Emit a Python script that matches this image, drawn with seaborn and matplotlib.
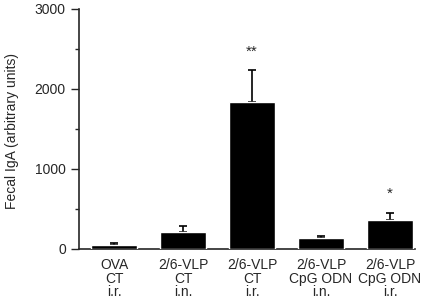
import matplotlib
matplotlib.use("Agg")
import matplotlib.pyplot as plt
import seaborn as sns
import pandas as pd
from matplotlib.ticker import MultipleLocator

# Données
groupes = ["OVA\nCT\ni.r.", "2/6-VLP\nCT\ni.n.", "2/6-VLP\nCT\ni.r.",
           "2/6-VLP\nCpG ODN\ni.n.", "2/6-VLP\nCpG ODN\ni.r."]
moyennes = [50, 213, 1832, 138, 351]
erreurs = [20, 63, 400, 25, 100]
etoiles = ["", "", "**", "", "*"]

df = pd.DataFrame({"groupe": groupes, "iga": moyennes})

sns.set_style("ticks")
plt.rcParams["font.family"] = ["Liberation Sans", "DejaVu Sans"]

fig = plt.figure(figsize=(4.25, 2.98), dpi=100)
ax = fig.add_axes([0.186, 0.166, 0.79, 0.804])

sns.barplot(data=df, x="groupe", y="iga", color="black", width=0.67,
            errorbar=None, saturation=1, zorder=3, ax=ax)
ax.errorbar(range(len(moyennes)), moyennes,
            yerr=[[0] * len(erreurs), erreurs], fmt="none",
            ecolor="black", elinewidth=1.2, capsize=3.2, capthick=1.2,
            zorder=2)

for i, (m, e, s) in enumerate(zip(moyennes, erreurs, etoiles)):
    if s:
        ax.text(i, m + e + 230, s, ha="center", va="center", fontsize=11)

ax.set_ylim(0, 3000)
ax.set_xlim(-0.51, 4.36)
ax.yaxis.set_major_locator(MultipleLocator(1000))
ax.yaxis.set_minor_locator(MultipleLocator(500))
ax.tick_params(axis="y", which="major", length=6, width=1, labelsize=10)
ax.tick_params(axis="y", which="minor", length=3, width=1)
ax.tick_params(axis="x", length=0, labelsize=10, pad=7)
for lab in ax.get_xticklabels():
    lab.set_linespacing(0.95)
ax.set_xlabel("")
ax.set_ylabel("Fecal IgA (arbitrary units)", fontsize=10)
ax.yaxis.set_label_coords(-0.18, 0.49)
sns.despine(ax=ax)
for sp in ["left", "bottom"]:
    ax.spines[sp].set_linewidth(1.2)

fig.savefig("out.png", dpi=100)
